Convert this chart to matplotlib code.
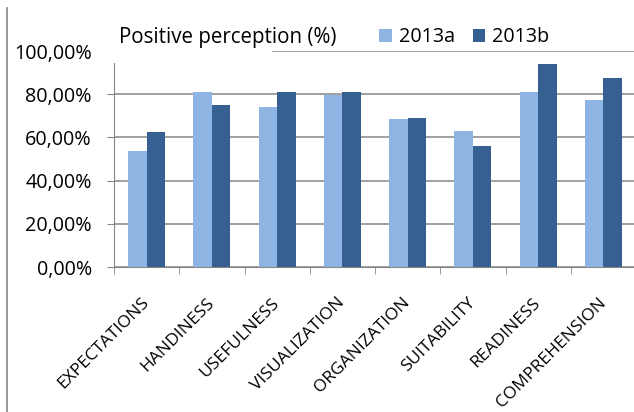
import matplotlib.pyplot as plt
from matplotlib.lines import Line2D
from matplotlib.patches import Rectangle
from matplotlib.ticker import FuncFormatter
import numpy as np

categories = ['EXPECTATIONS', 'HANDINESS', 'USEFULNESS', 'VISUALIZATION',
              'ORGANIZATION', 'SUITABILITY', 'READINESS', 'COMPREHENSION']
series_names = ['2013a', '2013b']
values_2013a = [53.6, 80.9, 74.2, 79.6, 68.4, 63.0, 80.9, 77.5]
values_2013b = [62.3, 74.8, 81.1, 81.1, 68.8, 56.1, 93.8, 87.4]
y_ticks = [0, 20, 40, 60, 80, 100]

plt.rcParams['font.family'] = ['Open Sans', 'DejaVu Sans']
plt.rcParams['font.size'] = 13

W, H = 634, 412
fig = plt.figure(figsize=(W / 100, H / 100), dpi=100)
# plot area: x 114..636 px, y 51..267 px (from top)
ax = fig.add_axes([114 / W, (H - 267) / H, 522 / W, 216 / H])

x = np.arange(len(categories))
bw = 0.283
ax.bar(x - bw / 2, values_2013a, bw, color='#8eb4e3', label=series_names[0], zorder=3)
ax.bar(x + bw / 2, values_2013b, bw, color='#376092', label=series_names[1], zorder=3)

ax.set_xlim(-0.5, len(categories) - 0.5)
ax.set_ylim(0, 100)

# gridlines and axes
ax.set_yticks(y_ticks)
ax.yaxis.set_major_formatter(FuncFormatter(lambda v, p: f'{v:.2f}%'.replace('.', ',')))
ax.grid(axis='y', color='#868686', linewidth=1.1, zorder=0)
ax.set_axisbelow(True)
for s in ['top', 'right']:
    ax.spines[s].set_visible(False)
ax.spines['left'].set_color('#868686')
ax.spines['bottom'].set_color('#868686')
ax.spines['left'].set_bounds(0, (267 - 63) / 2.16)
ax.tick_params(axis='y', length=5, color='#868686', pad=11, labelsize=14.2)

ax.set_xticks(x)
ax.set_xticklabels(categories, rotation=45, ha='right', va='center',
                   rotation_mode='anchor', fontsize=12.5)
ax.set_xticks(np.arange(len(categories) + 1) - 0.5, minor=True)
ax.tick_params(axis='x', which='major', length=0, pad=24)
ax.tick_params(axis='x', which='minor', length=5, color='#868686')

# white box behind the chart title hides the top gridline on the left
ax.add_patch(Rectangle((-0.62, (267 - 63) / 2.16), 0.62 + (272 - 114) / 65.25 - 0.5, 20,
                       facecolor='white', edgecolor='none', zorder=5, clip_on=False))

fig.text(119 / W, 1 - 38 / H, 'Positive perception (%)', ha='left', va='center', fontsize=14.8)

fig.legend(loc='center left', bbox_to_anchor=(379 / W, 1 - 37.5 / H), ncol=2,
           frameon=False, handlelength=0.65, handleheight=0.65, handletextpad=0.35,
           columnspacing=0.9, borderpad=0, borderaxespad=0, fontsize=14.2)

# outer border line on the far left
fig.add_artist(Line2D([7 / W, 7 / W], [0, 1 - 8 / H], color='#868686', linewidth=1.2))

fig.savefig('out.png', dpi=100)
